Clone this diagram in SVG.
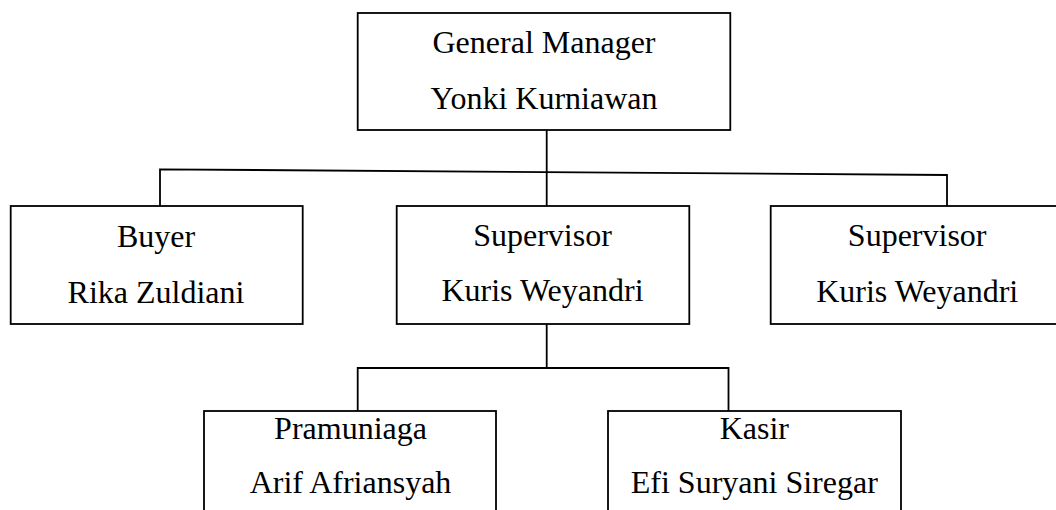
<svg xmlns="http://www.w3.org/2000/svg" width="1056" height="510" viewBox="0 0 1056 510">
<style>
.box{fill:#fff;stroke:#000;stroke-width:1.8}
.conn{fill:none;stroke:#000;stroke-width:1.8}
.t{font-family:'Liberation Serif','Times New Roman',Times,'DejaVu Serif',serif;font-size:32px;fill:#000;text-anchor:middle}
</style>
<rect width="1056" height="510" fill="#fff"/>
<g id="connectors">
<polyline class="conn" points="160,206 160,169.3 947,175 947,206"/>
<line class="conn" x1="546.7" y1="130" x2="546.7" y2="206"/>
<line class="conn" x1="546.7" y1="324" x2="546.7" y2="368"/>
<polyline class="conn" points="357.7,411 357.7,368 728.5,368 728.5,411"/>
</g>
<g id="gm" class="t" font-family="Liberation Serif, Times New Roman, serif">
<rect class="box" x="357.7" y="13" width="372.6" height="117"/>
<text x="544" y="53.3">General Manager</text>
<text x="544" y="109">Yonki Kurniawan</text>
</g>
<g id="buyer" class="t" font-family="Liberation Serif, Times New Roman, serif">
<rect class="box" x="10.7" y="206" width="292" height="118"/>
<text x="156" y="247.3">Buyer</text>
<text x="156" y="302.7">Rika Zuldiani</text>
</g>
<g id="supervisor1" class="t" font-family="Liberation Serif, Times New Roman, serif">
<rect class="box" x="396.7" y="206" width="292.6" height="118"/>
<text x="542.5" y="245.5">Supervisor</text>
<text x="542.5" y="301">Kuris Weyandri</text>
</g>
<g id="supervisor2" class="t" font-family="Liberation Serif, Times New Roman, serif">
<rect class="box" x="770.7" y="206" width="293" height="118"/>
<text x="917.2" y="246">Supervisor</text>
<text x="917.2" y="301.7">Kuris Weyandri</text>
</g>
<g id="pramuniaga" class="t" font-family="Liberation Serif, Times New Roman, serif">
<rect class="box" x="204" y="411" width="292" height="120"/>
<text x="350.5" y="439.3">Pramuniaga</text>
<text x="350.5" y="492.7">Arif Afriansyah</text>
</g>
<g id="kasir" class="t" font-family="Liberation Serif, Times New Roman, serif">
<rect class="box" x="608" y="411" width="293" height="120"/>
<text x="754.3" y="439.3">Kasir</text>
<text x="754.3" y="493.3">Efi Suryani Siregar</text>
</g>
</svg>
